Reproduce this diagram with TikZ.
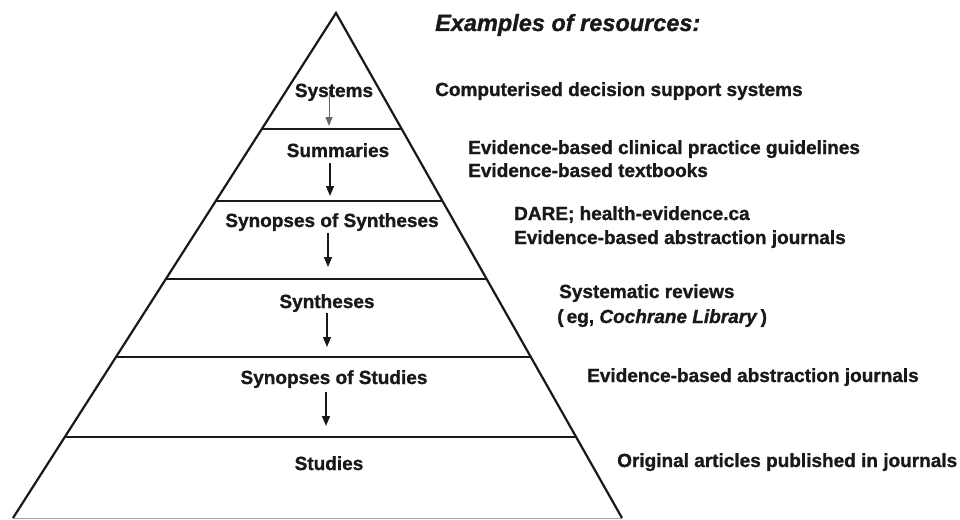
\documentclass[tikz,border=0pt]{standalone}
\usepackage{fontspec}
\setmainfont{Liberation Sans}[BoldFeatures={FakeBold=1.2},BoldItalicFeatures={FakeBold=1.2}]
\usetikzlibrary{calc,arrows.meta}
\begin{document}
\begin{tikzpicture}[x=1pt,y=-1pt,
  lbl/.style={font=\fontsize{19}{22}\selectfont\bfseries, anchor=base, inner sep=0pt, text=black!90},
  res/.style={font=\fontsize{19}{22}\selectfont\bfseries, anchor=base west, inner sep=0pt, text=black!90},
  edgeline/.style={line width=2.2pt, black!90},
  tier/.style={line width=2pt, black!90},
  arr/.style={line width=1.4pt, black!90, -{Triangle[length=10pt,width=8pt]}},
  thinarr/.style={line width=1pt, black!60, -{Triangle[length=9pt,width=7pt]}},
]
\useasboundingbox (0,0) rectangle (960,519);
% pyramid
\coordinate (apex) at (336,13);
\coordinate (bl) at (13,518);
\coordinate (br) at (622,518);
\draw[black!35, line width=1pt] (bl) -- (br);
\draw[edgeline] (bl) -- (apex) -- (br);
\foreach \t in {0.2297,0.3723,0.5267,0.6812,0.8396}{
  \draw[tier] ($(apex)!\t!(bl)$) -- ($(apex)!\t!(br)$);
}
% level labels
\node[lbl] (sys)   at (334,97)  {Systems};
\node[lbl] (sum)   at (338,157) {Summaries};
\node[lbl] (sosyn) at (332,227) {Synopses of Syntheses};
\node[lbl] (syn)   at (327,308) {Syntheses};
\node[lbl] (sost)  at (334,384) {Synopses of Studies};
\node[lbl] (stu)   at (329,470) {Studies};
% arrows
\coordinate (s1) at (329,90);  \coordinate (t1) at (329,126);
\coordinate (s2) at (330,163); \coordinate (t2) at (330,196);
\coordinate (s3) at (328,233); \coordinate (t3) at (328,267);
\coordinate (s4) at (327,313); \coordinate (t4) at (327,347);
\coordinate (s5) at (326,392); \coordinate (t5) at (326,426);
\draw[thinarr] (s1) -- (t1);
\draw[arr] (s2) -- (t2);
\draw[arr] (s3) -- (t3);
\draw[arr] (s4) -- (t4);
\draw[arr] (s5) -- (t5);
% resources
\node[res, font=\fontsize{23.5}{28}\selectfont\bfseries\itshape] (title) at (435,31) {Examples of resources:};
\node[res] (r1)  at (435,96)  {Computerised decision support systems};
\node[res] (r2a) at (468,154) {Evidence-based clinical practice guidelines};
\node[res] (r2b) at (468,177) {Evidence-based textbooks};
\node[res] (r3a) at (514,220) {DARE; health-evidence.ca};
\node[res] (r3b) at (514,244) {Evidence-based abstraction journals};
\node[res] (r4a) at (559,298) {Systematic reviews};
\node[res] (r4b) at (557,323) {(\,eg, \textit{Cochrane Library}\,)};
\node[res] (r5)  at (587,382) {Evidence-based abstraction journals};
\node[res] (r6)  at (617,467) {Original articles published in journals};
\end{tikzpicture}
\end{document}
